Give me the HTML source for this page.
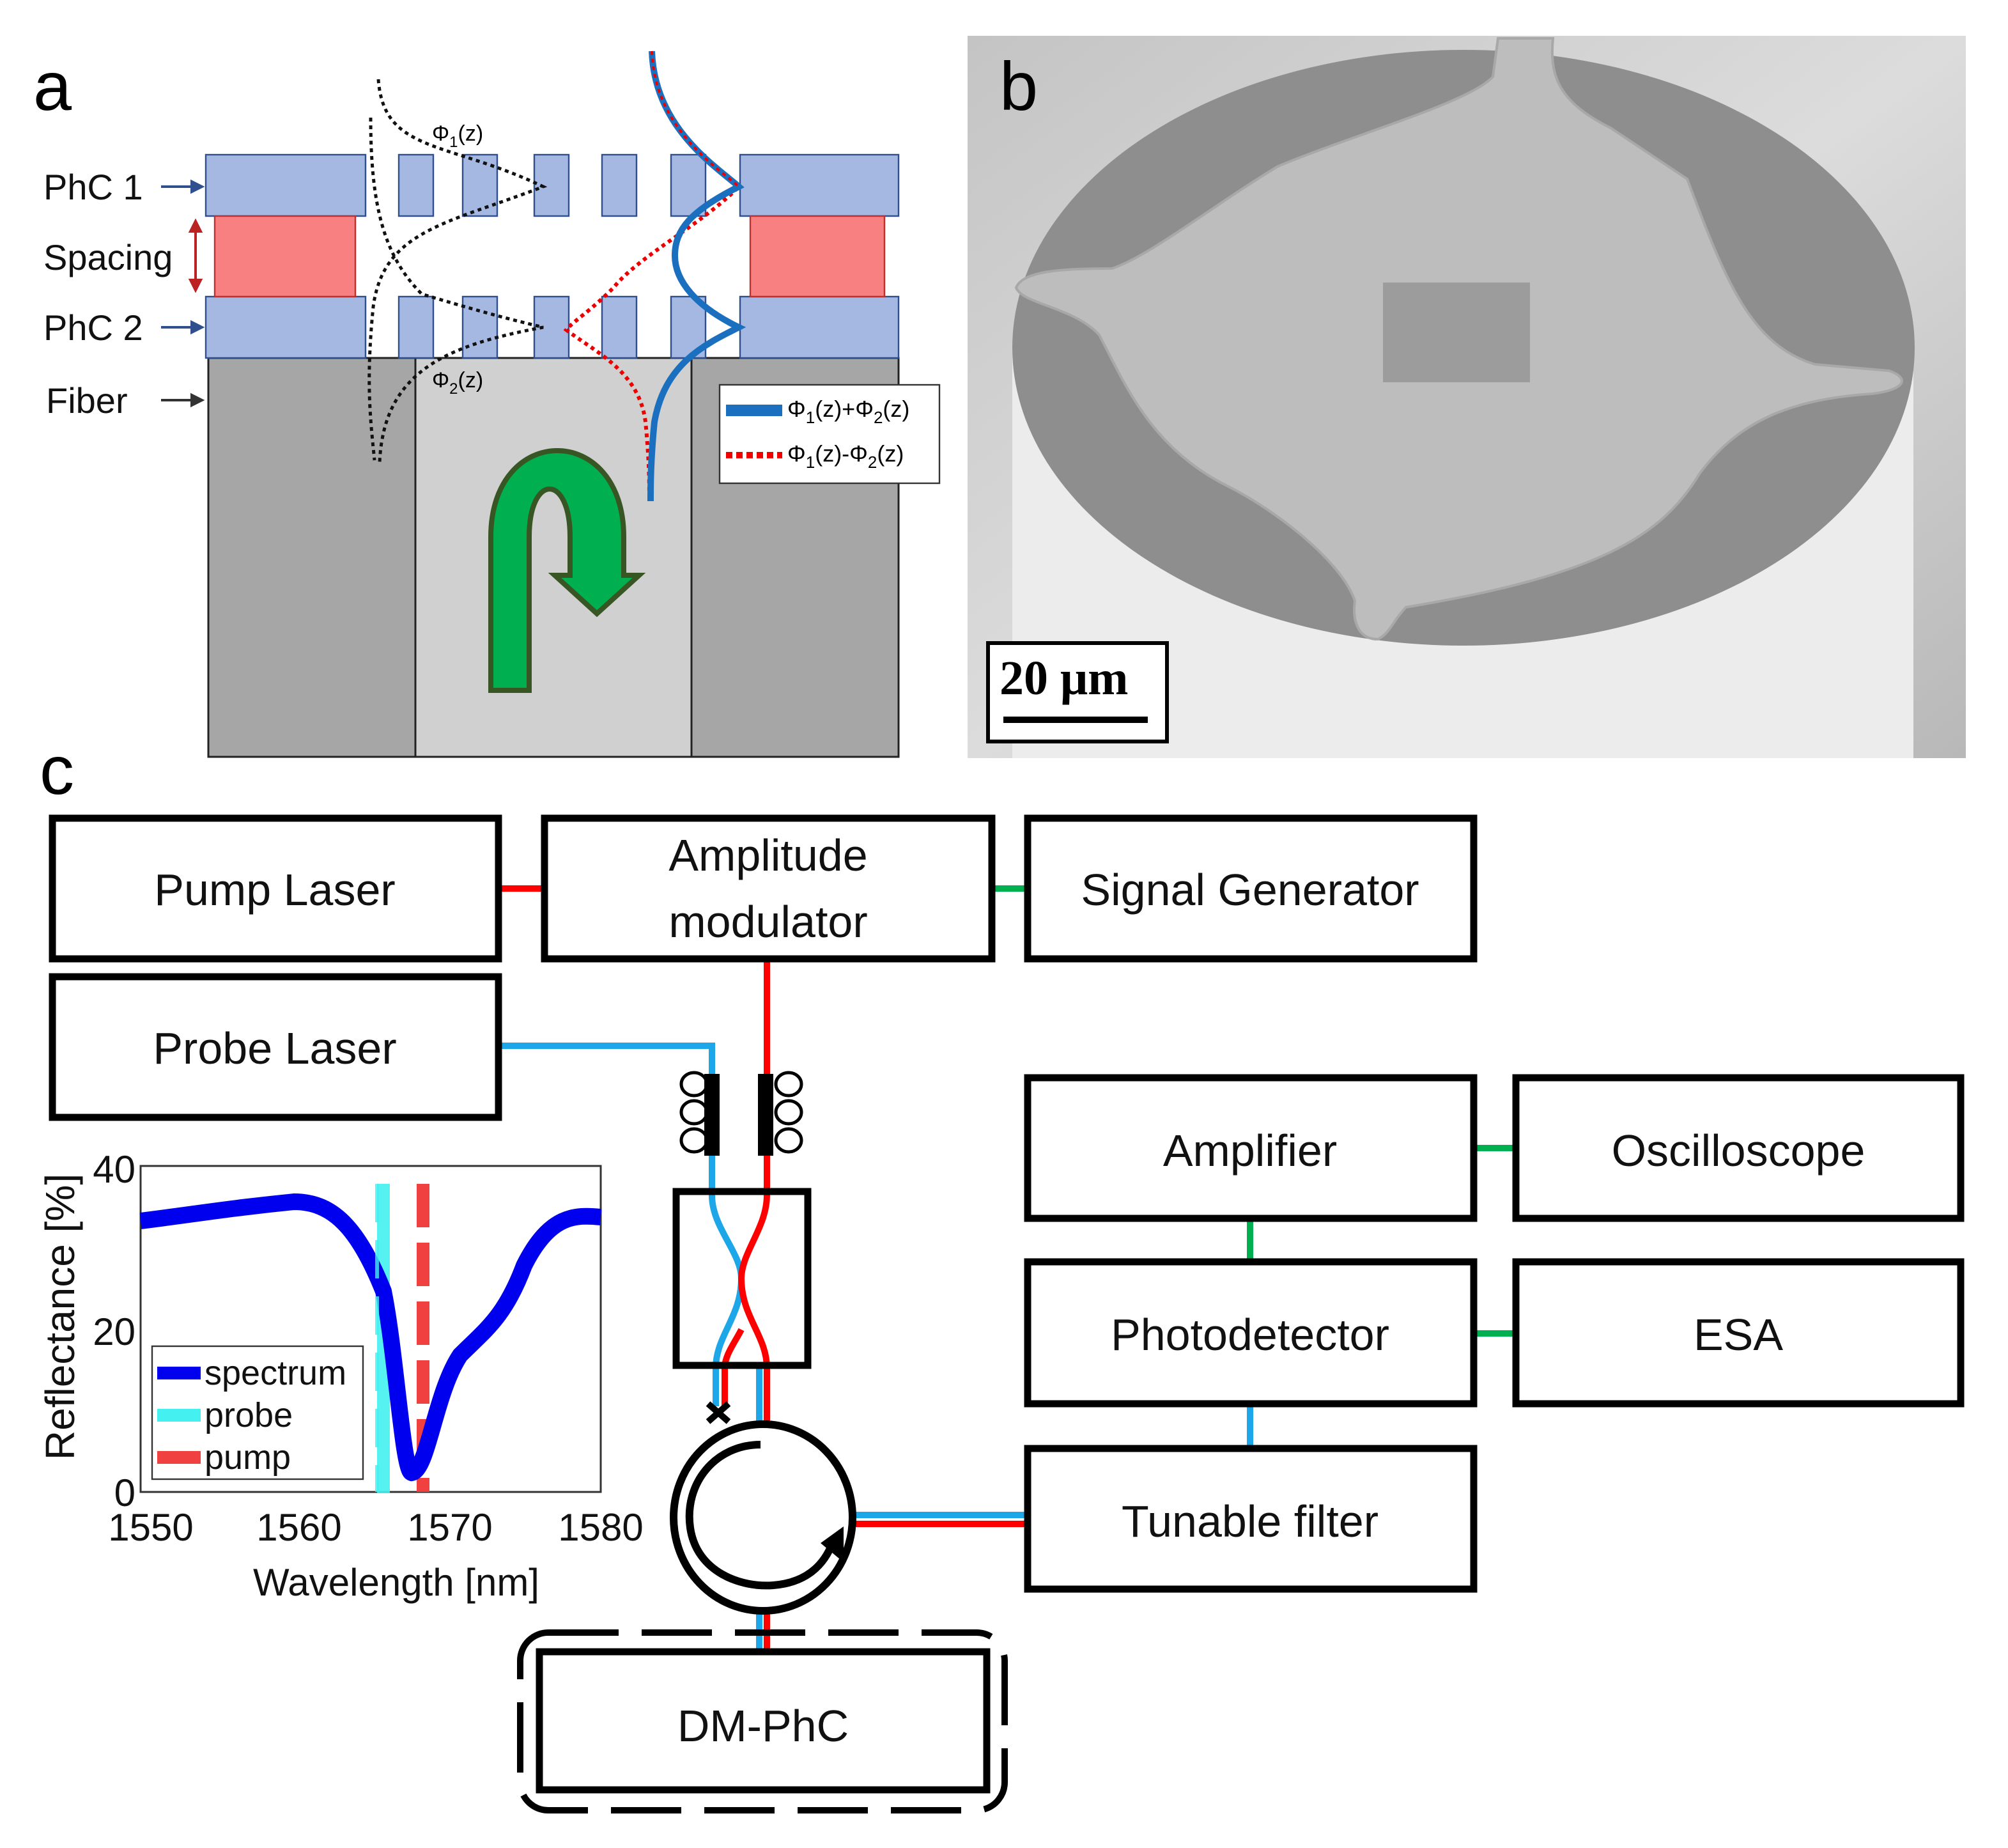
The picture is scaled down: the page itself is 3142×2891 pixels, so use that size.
<!DOCTYPE html>
<html><head><meta charset="utf-8"><style>html,body{margin:0;padding:0;background:#fff}svg{display:block}</style></head>
<body>
<svg width="3142" height="2891" viewBox="0 0 1571 1445.5" xmlns="http://www.w3.org/2000/svg" font-family="Liberation Sans, DejaVu Sans, sans-serif">
<rect width="1571" height="1446" fill="#fff"/>
<!-- Panel a -->
<text x="26" y="86" font-size="54">a</text>
<rect x="163" y="280" width="540" height="312" fill="#a6a6a6" stroke="#222" stroke-width="1.5"/>
<rect x="325" y="280" width="216" height="312" fill="#d0d0d0" stroke="#222" stroke-width="1.5"/>
<g fill="#a4b8e2" stroke="#2f4f8f" stroke-width="1.2">
<rect x="161" y="121" width="125" height="48"/><rect x="312" y="121" width="27" height="48"/><rect x="362" y="121" width="27" height="48"/><rect x="418" y="121" width="27" height="48"/><rect x="471" y="121" width="27" height="48"/><rect x="525" y="121" width="27" height="48"/><rect x="579" y="121" width="124" height="48"/>
<rect x="161" y="232" width="125" height="48"/><rect x="312" y="232" width="27" height="48"/><rect x="362" y="232" width="27" height="48"/><rect x="418" y="232" width="27" height="48"/><rect x="471" y="232" width="27" height="48"/><rect x="525" y="232" width="27" height="48"/><rect x="579" y="232" width="124" height="48"/>
</g>
<rect x="168" y="169" width="110" height="63" fill="#f88080" stroke="#c03030" stroke-width="1.2"/>
<rect x="587" y="169" width="105" height="63" fill="#f88080" stroke="#c03030" stroke-width="1.2"/>
<g font-size="28" fill="#111">
<text x="34" y="156">PhC 1</text><text x="34" y="211">Spacing</text><text x="34" y="266">PhC 2</text><text x="36" y="323">Fiber</text></g>
<g stroke="#2f4f8f" stroke-width="2" fill="#2f4f8f"><line x1="126" y1="146" x2="152" y2="146"/><path d="M158 146 l-8 -4 v8z"/><line x1="126" y1="256" x2="152" y2="256"/><path d="M158 256 l-8 -4 v8z"/></g>
<g stroke="#333" stroke-width="2" fill="#333"><line x1="126" y1="313" x2="152" y2="313"/><path d="M158 313 l-8 -4 v8z"/></g>
<g stroke="#b22" stroke-width="2" fill="#b22"><line x1="153" y1="180" x2="153" y2="220"/><path d="M153 173 l-4 8 h8z M153 227 l-4 -8 h8z"/></g>
<g fill="none" stroke="#111" stroke-width="2.5" stroke-dasharray="3,3">
<path d="M296 62 C300 120 350 110 425 146 C350 175 300 180 292 240 C286 300 290 330 293 360"/>
<path d="M290 92 C290 160 300 200 330 230 C380 245 400 250 425 256 C350 270 300 290 297 362"/>
</g>
<g stroke="#e00" stroke-width="3" fill="none" stroke-dasharray="3,3">
<path d="M510 40 C512 100 560 130 578 146 C550 175 500 200 480 225 C460 245 450 250 443 258 C465 275 500 290 505 330 C508 360 508 380 508 390"/>
</g>
<path d="M510 40 C512 100 560 130 578 146 C540 165 528 180 528 200 C528 220 545 240 578 256 C550 270 520 285 512 330 C509 360 509 380 509 392" fill="none" stroke="#1a6fbf" stroke-width="5"/>
<path d="M510 40 C512 100 560 130 578 146" fill="none" stroke="#e00" stroke-width="2" stroke-dasharray="3,3"/>
<text x="338" y="110" font-size="17">Φ<tspan font-size="12" dy="5">1</tspan><tspan dy="-5">(z)</tspan></text>
<text x="338" y="303" font-size="17">Φ<tspan font-size="12" dy="5">2</tspan><tspan dy="-5">(z)</tspan></text>
<rect x="563" y="301" width="172" height="77" fill="#fff" stroke="#333" stroke-width="1.2"/>
<line x1="568" y1="321" x2="612" y2="321" stroke="#1a6fbf" stroke-width="9"/>
<line x1="568" y1="356" x2="612" y2="356" stroke="#e00" stroke-width="5" stroke-dasharray="5,3"/>
<text x="616" y="326" font-size="18">Φ<tspan font-size="13" dy="5">1</tspan><tspan dy="-5">(z)+Φ</tspan><tspan font-size="13" dy="5">2</tspan><tspan dy="-5">(z)</tspan></text>
<text x="616" y="361" font-size="18">Φ<tspan font-size="13" dy="5">1</tspan><tspan dy="-5">(z)-Φ</tspan><tspan font-size="13" dy="5">2</tspan><tspan dy="-5">(z)</tspan></text>
<path d="M384 540 V420 C384 330 488 330 488 420 V450 H500 L467 480 L434 450 H446 V420 C446 370 414 370 414 420 V540 Z" fill="#00b050" stroke="#375623" stroke-width="4"/>
<!-- Panel b -->
<defs><linearGradient id="bg" x1="0" y1="0" x2="1" y2="1"><stop offset="0" stop-color="#c4c4c4"/><stop offset="0.5" stop-color="#dcdcdc"/><stop offset="1" stop-color="#b8b8b8"/></linearGradient></defs>
<rect x="757" y="28" width="781" height="565" fill="url(#bg)"/>
<rect x="792" y="272" width="705" height="321" fill="#ececec"/>
<ellipse cx="1145" cy="272" rx="353" ry="233" fill="#8e8e8e"/>
<path d="M1172 30 L1215 30 C1212 60 1220 80 1260 100 L1320 140 C1350 220 1370 270 1420 285 L1478 290 C1495 296 1490 305 1465 308 C1400 312 1360 330 1330 370 C1300 420 1250 450 1100 475 C1090 485 1088 495 1078 500 C1062 500 1058 485 1060 470 C1050 440 1000 400 960 380 C900 350 880 300 860 262 C840 240 800 238 795 225 C800 212 830 210 870 210 C900 200 950 160 1000 130 C1060 105 1150 80 1168 60 Z" fill="#bdbdbd" stroke="#a8a8a8" stroke-width="2"/>
<rect x="1082" y="221" width="115" height="78" fill="#9c9c9c"/>
<text x="782" y="86" font-size="54">b</text>
<rect x="773" y="503" width="140" height="77" fill="#fff" stroke="#000" stroke-width="3"/>
<text x="782" y="543" font-size="38" font-weight="bold" font-family="Liberation Serif, serif">20 μm</text>
<line x1="785" y1="563" x2="898" y2="563" stroke="#000" stroke-width="5"/>
<!-- Panel c -->
<text x="31" y="621" font-size="54">c</text>
<g stroke-width="5">
<line x1="390" y1="695" x2="426" y2="695" stroke="#f00"/>
<line x1="776" y1="695" x2="804" y2="695" stroke="#00b050"/>
<line x1="1153" y1="898" x2="1186" y2="898" stroke="#00b050"/>
<line x1="1153" y1="1043" x2="1186" y2="1043" stroke="#00b050"/>
<line x1="978" y1="953" x2="978" y2="987" stroke="#00b050"/>
<line x1="978" y1="1098" x2="978" y2="1133" stroke="#1ea7e8"/>
<path d="M390 818 H557 V935" fill="none" stroke="#1ea7e8"/>
<line x1="600" y1="750" x2="600" y2="935" stroke="#f00"/>
<path d="M557 935 C557 960 580 980 580 1000 C580 1030 560 1045 560 1070 V1100" fill="none" stroke="#1ea7e8"/>
<path d="M600 935 C600 960 580 980 580 1000 C580 1030 600 1045 600 1070" fill="none" stroke="#f00"/>
<path d="M580 1040 C575 1050 567 1060 567 1070 V1100" fill="none" stroke="#f00"/>
<line x1="594" y1="1070" x2="594" y2="1115" stroke="#1ea7e8"/>
<line x1="600" y1="1070" x2="600" y2="1115" stroke="#f00"/>
<line x1="667" y1="1185" x2="804" y2="1185" stroke="#1ea7e8"/>
<line x1="667" y1="1192" x2="804" y2="1192" stroke="#f00"/>
<line x1="594" y1="1260" x2="594" y2="1290" stroke="#1ea7e8"/>
<line x1="600" y1="1260" x2="600" y2="1290" stroke="#f00"/>
</g>
<g fill="#fff" stroke="#000" stroke-width="5.5">
<rect x="41" y="640" width="349" height="110"/><rect x="426" y="640" width="350" height="110"/><rect x="804" y="640" width="349" height="110"/>
<rect x="41" y="764" width="349" height="110" fill="none"/>
<rect x="804" y="843" width="349" height="110"/><rect x="1186" y="843" width="348" height="110"/>
<rect x="804" y="987" width="349" height="111"/><rect x="1186" y="987" width="348" height="111"/>
<rect x="804" y="1133" width="349" height="110"/>
<rect x="422" y="1292" width="350" height="108"/>
<rect x="529" y="932" width="103" height="136" fill="none"/>
</g>
<rect x="407" y="1277" width="379" height="139" rx="22" fill="none" stroke="#000" stroke-width="5" stroke-dasharray="55,18"/>
<g font-size="35" text-anchor="middle" fill="#111">
<text x="215" y="708">Pump Laser</text><text x="601" y="681">Amplitude</text><text x="601" y="733">modulator</text><text x="978" y="708">Signal Generator</text>
<text x="215" y="832">Probe Laser</text><text x="978" y="912">Amplifier</text><text x="1360" y="912">Oscilloscope</text>
<text x="978" y="1056">Photodetector</text><text x="1360" y="1056">ESA</text><text x="978" y="1202">Tunable filter</text><text x="597" y="1362">DM-PhC</text></g>
<g stroke="#000" stroke-width="2.5" fill="#fff">
<ellipse cx="543" cy="848" rx="10" ry="9"/><ellipse cx="543" cy="870" rx="10" ry="9"/><ellipse cx="543" cy="892" rx="10" ry="9"/>
<ellipse cx="617" cy="848" rx="10" ry="9"/><ellipse cx="617" cy="870" rx="10" ry="9"/><ellipse cx="617" cy="892" rx="10" ry="9"/></g>
<rect x="551" y="840" width="12" height="64" fill="#000"/><rect x="593" y="840" width="12" height="64" fill="#000"/>
<path d="M554 1098 L570 1112 M570 1098 L554 1112" stroke="#000" stroke-width="5"/>
<ellipse cx="597" cy="1187" rx="70" ry="73" fill="#fff" stroke="#000" stroke-width="6"/>
<path d="M595 1130 C560 1130 535 1160 540 1195 C545 1230 580 1242 605 1240 C630 1238 645 1225 652 1205" fill="none" stroke="#000" stroke-width="6"/>
<path d="M642 1207 L660 1194 L660 1222 Z" fill="#000"/>
<!-- graph -->
<rect x="110" y="912" width="360" height="255" fill="#fff" stroke="#333" stroke-width="1.5"/>
<rect x="295" y="926" width="10" height="242" fill="#44f0f0" opacity="0.9"/>
<line x1="331" y1="926" x2="331" y2="1167" stroke="#f04040" stroke-width="10" stroke-dasharray="34,12"/>
<path d="M110 955 C150 950 180 945 230 940 C260 940 280 960 300 1010 C310 1060 315 1150 322 1152 C335 1150 340 1090 360 1060 C380 1040 395 1030 410 990 C430 950 450 950 470 952" fill="none" stroke="#0000ee" stroke-width="13"/>
<line x1="295" y1="926" x2="295" y2="1167" stroke="#44f0f0" stroke-width="3" stroke-dasharray="30,14" opacity="0.8"/>
<rect x="119" y="1053" width="165" height="104" fill="#fff" stroke="#333" stroke-width="1.2"/>
<line x1="123" y1="1074" x2="157" y2="1074" stroke="#0000ee" stroke-width="10"/>
<line x1="123" y1="1107" x2="157" y2="1107" stroke="#44f0f0" stroke-width="10"/>
<line x1="123" y1="1140" x2="157" y2="1140" stroke="#f04040" stroke-width="10"/>
<g font-size="27" fill="#111"><text x="160" y="1083">spectrum</text><text x="160" y="1116">probe</text><text x="160" y="1149">pump</text></g>
<g font-size="30" fill="#111" text-anchor="middle"><text x="118" y="1205">1550</text><text x="234" y="1205">1560</text><text x="352" y="1205">1570</text><text x="470" y="1205">1580</text>
<text x="310" y="1248">Wavelength [nm]</text></g>
<g font-size="30" fill="#111" text-anchor="end"><text x="106" y="925">40</text><text x="106" y="1052">20</text><text x="106" y="1178">0</text></g>
<text transform="translate(58 1030) rotate(-90)" font-size="32" text-anchor="middle" fill="#111">Reflectance [%]</text>
</svg>
</body></html>
